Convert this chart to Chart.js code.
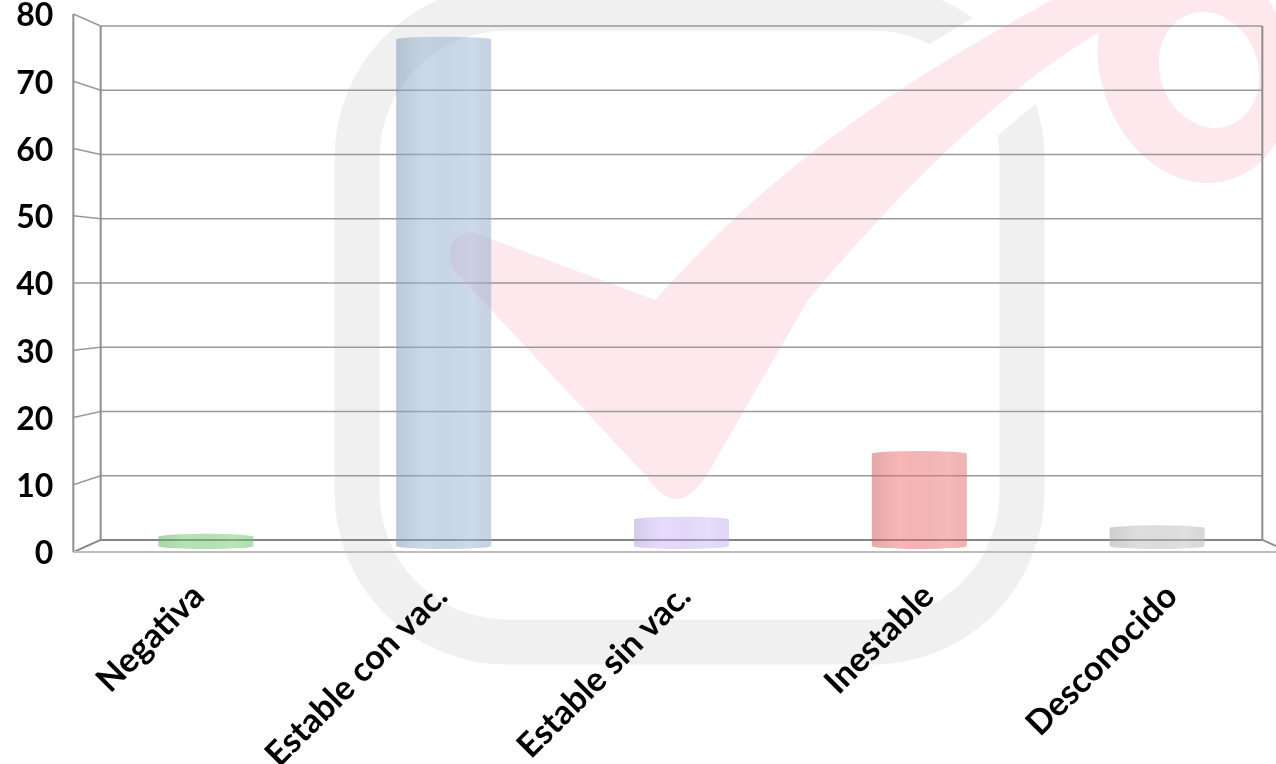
<!DOCTYPE html>
<html lang="es">
<head>
<meta charset="UTF-8">
<title>Gráfico de barras</title>
<script src="https://cdn.jsdelivr.net/npm/chart.js@4.4.1/dist/chart.umd.min.js"></script>
<style>
    html, body { margin: 0; padding: 0; background: #fff; }
    #contenedor { width: 1276px; height: 764px; }
</style>
</head>
<body>
<div id="contenedor"><canvas id="grafico" width="1276" height="764"></canvas></div>
<script>
// Datos del gráfico
const categorias = ['Negativa', 'Estable con vac.', 'Estable sin vac.', 'Inestable', 'Desconocido'];
const valores = [1.4, 77, 4, 14, 2.7];
const ejeMin = 0;
const ejeMax = 80;
const ejePaso = 10;

// Colores de cada barra (semitransparentes)
const colores = [
    'rgba(110, 200, 110, 0.5)',
    'rgba(150, 178, 210, 0.5)',
    'rgba(200, 175, 250, 0.45)',
    'rgba(238, 110, 110, 0.5)',
    'rgba(190, 190, 190, 0.5)'
];

// Profundidad del efecto 3D respecto al plano de las barras
const FRENTE = 1.023;
const FONDO = 0.977;
const FUENTE_Y = 'bold 32px Lato';
const TAM_X = 34;
const FUENTE_X = 'bold ' + TAM_X + 'px Lato';

/**
 * Proyecta un punto del plano de las barras hacia el frente o el fondo
 */
function proyectar(chart, x, y, factor) {
    const a = chart.chartArea;
    const cx = (a.left + a.right) / 2;
    const cy = (a.top + a.bottom) / 2;
    return { x: cx + (x - cx) * factor, y: cy + (y - cy) * factor };
}

function linea(ctx, p1, p2) {
    ctx.beginPath();
    ctx.moveTo(p1.x, p1.y);
    ctx.lineTo(p2.x, p2.y);
    ctx.stroke();
}

/**
 * Marca de agua del fondo (marco gris y visto rosa)
 */
function dibujarMarcaAgua(ctx) {
    ctx.save();
    ctx.fillStyle = '#fff';
    ctx.fillRect(0, 0, ctx.canvas.width, ctx.canvas.height);

    // marco gris redondeado
    const x0 = 357, y0 = 8, x1 = 1022, y1 = 642, r = 150;
    ctx.strokeStyle = '#f0f0f0';
    ctx.lineWidth = 45;
    ctx.beginPath();
    ctx.moveTo(x0 + r, y0);
    ctx.arcTo(x1, y0, x1, y1, r);
    ctx.arcTo(x1, y1, x0, y1, r);
    ctx.arcTo(x0, y1, x0, y0, r);
    ctx.arcTo(x0, y0, x1, y0, r);
    ctx.closePath();
    ctx.stroke();

    // visto rosa
    const visto = new Path2D();
    visto.moveTo(472, 232);
    visto.lineTo(655, 300);
    visto.bezierCurveTo(730, 220, 820, 120, 1090, -20);
    visto.lineTo(1140, 10);
    visto.bezierCurveTo(1060, 50, 960, 120, 808, 300);
    visto.lineTo(705, 478);
    visto.quadraticCurveTo(676, 520, 648, 478);
    visto.lineTo(454, 270);
    visto.quadraticCurveTo(440, 236, 472, 232);
    visto.closePath();

    ctx.strokeStyle = '#fff';
    ctx.lineWidth = 46;
    ctx.lineJoin = 'round';
    ctx.stroke(visto);
    ctx.fillStyle = '#fde8ee';
    ctx.fill(visto);

    // lazo superior derecho
    ctx.beginPath();
    ctx.ellipse(1195, 65, 95, 120, -0.3, 0, Math.PI * 2);
    ctx.fill();
    ctx.fillStyle = '#fff';
    ctx.beginPath();
    ctx.ellipse(1209, 70, 49, 59, -0.35, 0, Math.PI * 2);
    ctx.fill();
    ctx.restore();
}

/**
 * Caja 3D: pared del fondo con cuadrícula, lateral izquierdo y piso
 */
function dibujarCaja(chart) {
    const ctx = chart.ctx;
    const a = chart.chartArea;
    const y = chart.scales.y;
    const arriba = y.getPixelForValue(ejeMax);
    const abajo = y.getPixelForValue(ejeMin);

    ctx.save();
    y.ticks.forEach(function (t) {
        const ym = y.getPixelForValue(t.value);
        ctx.strokeStyle = t.value === ejeMin ? '#858585' : '#9a9a9a';
        ctx.lineWidth = t.value === ejeMin ? 2 : 1.5;
        linea(ctx, proyectar(chart, a.left, ym, FRENTE), proyectar(chart, a.left, ym, FONDO));
        linea(ctx, proyectar(chart, a.left, ym, FONDO), proyectar(chart, a.right, ym, FONDO));
    });

    ctx.strokeStyle = '#8e8e8e';
    ctx.lineWidth = 2;
    linea(ctx, proyectar(chart, a.left, arriba, FONDO), proyectar(chart, a.left, abajo, FONDO));
    linea(ctx, proyectar(chart, a.right, arriba, FONDO), proyectar(chart, a.right, abajo, FONDO));
    linea(ctx, proyectar(chart, a.left, arriba, FRENTE), proyectar(chart, a.left, abajo, FRENTE));
    linea(ctx, proyectar(chart, a.right, abajo, FONDO), proyectar(chart, a.right, abajo, FRENTE));

    // borde delantero del piso
    ctx.strokeStyle = '#bdbdbd';
    linea(ctx, proyectar(chart, a.left, abajo, FRENTE), proyectar(chart, a.right, abajo, FRENTE));
    ctx.restore();
}

/**
 * Barra cilíndrica a partir de la geometría del elemento
 */
function dibujarCilindro(ctx, x, tope, base, ancho, color) {
    const rx = ancho / 2;
    const ry = 3;
    ctx.save();
    ctx.beginPath();
    ctx.moveTo(x - rx, tope);
    ctx.ellipse(x, tope, rx, ry, 0, Math.PI, Math.PI * 2);
    ctx.lineTo(x + rx, base);
    ctx.ellipse(x, base, rx, ry, 0, 0, Math.PI);
    ctx.closePath();
    ctx.fillStyle = color;
    ctx.fill();

    ctx.clip();
    const g = ctx.createLinearGradient(x - rx, 0, x + rx, 0);
    g.addColorStop(0, 'rgba(0, 0, 0, 0.07)');
    g.addColorStop(0.3, 'rgba(0, 0, 0, 0)');
    g.addColorStop(0.8, 'rgba(255, 255, 255, 0.06)');
    g.addColorStop(1, 'rgba(0, 0, 0, 0.02)');
    ctx.fillStyle = g;
    ctx.fillRect(x - rx, tope - ry, ancho, base - tope + 2 * ry);
    ctx.restore();
}

/**
 * Etiquetas de los ejes sobre el plano delantero
 */
function dibujarEtiquetas(chart) {
    const ctx = chart.ctx;
    const a = chart.chartArea;
    const x = chart.scales.x;
    const y = chart.scales.y;
    ctx.save();
    ctx.fillStyle = '#000';

    // eje Y
    ctx.font = FUENTE_Y;
    ctx.textAlign = 'right';
    ctx.textBaseline = 'middle';
    y.ticks.forEach(function (t) {
        const p = proyectar(chart, a.left, y.getPixelForValue(t.value), FRENTE);
        ctx.fillText(String(t.value), p.x - 20, p.y + 2);
    });

    // eje X, girado 45 grados
    ctx.font = FUENTE_X;
    x.ticks.forEach(function (t, i) {
        const p = proyectar(chart, x.getPixelForTick(i), a.bottom, FRENTE);
        ctx.save();
        ctx.translate(p.x - 11, p.y + 24);
        ctx.rotate(-Math.PI / 4);
        ctx.fillText(x.getLabelForValue(t.value), 0, TAM_X * 0.6);
        ctx.restore();
    });
    ctx.restore();
}

const plugin3D = {
    id: 'caja3d',
    beforeDraw: function (chart) {
        dibujarMarcaAgua(chart.ctx);
    },
    beforeDatasetsDraw: function (chart) {
        dibujarCaja(chart);
    },
    beforeDatasetDraw: function (chart, args) {
        args.meta.data.forEach(function (el) {
            const p = el.getProps(['x', 'y', 'base', 'width'], true);
            dibujarCilindro(chart.ctx, p.x, p.y, p.base, p.width, el.options.backgroundColor);
        });
        return false;
    },
    afterDraw: function (chart) {
        dibujarEtiquetas(chart);
    }
};

document.addEventListener('DOMContentLoaded', function () {
    Chart.defaults.font.family = 'Lato';
    new Chart(document.getElementById('grafico'), {
        type: 'bar',
        data: {
            labels: categorias,
            datasets: [{
                data: valores,
                backgroundColor: colores,
                borderWidth: 0,
                barPercentage: 0.4,
                categoryPercentage: 1.0
            }]
        },
        options: {
            responsive: false,
            animation: false,
            devicePixelRatio: 1,
            layout: { padding: { left: 87, top: 20, right: 0, bottom: 0 } },
            plugins: {
                legend: { display: false },
                tooltip: { enabled: false }
            },
            scales: {
                x: {
                    grid: { display: false, drawTicks: false },
                    border: { display: false },
                    ticks: { display: false, autoSkip: false },
                    afterFit: function (s) { s.height = 218; }
                },
                y: {
                    display: false,
                    min: ejeMin,
                    max: ejeMax,
                    ticks: { stepSize: ejePaso }
                }
            }
        },
        plugins: [plugin3D]
    });
});
</script>
</body>
</html>
